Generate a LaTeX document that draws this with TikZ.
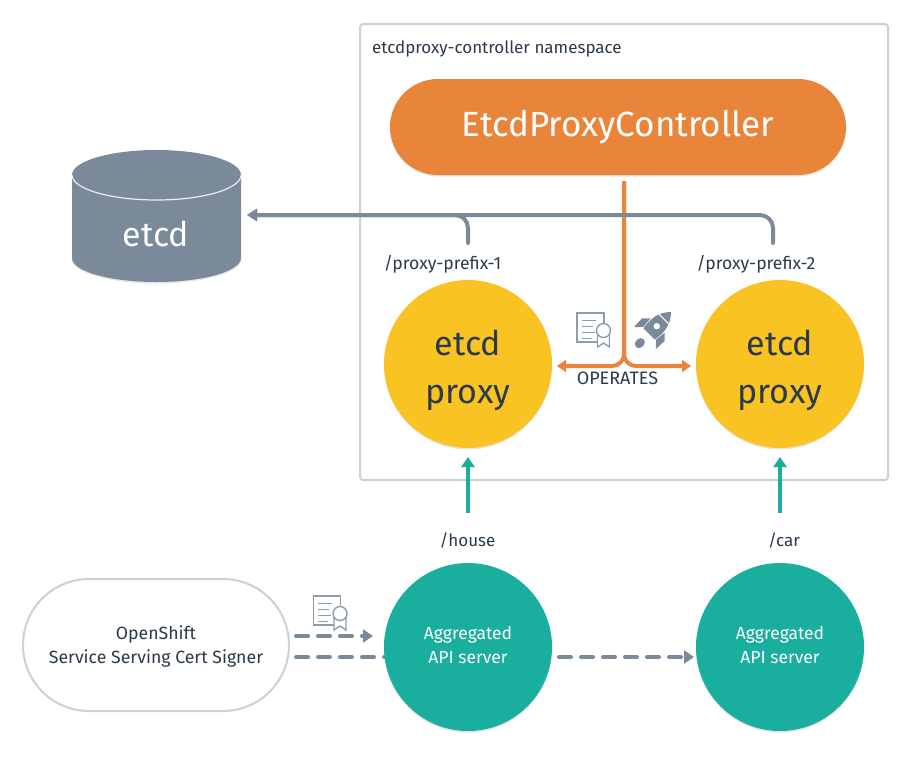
\documentclass[tikz,border=0pt]{standalone}
\usepackage{fontspec}
\setmainfont{Fira Sans}
\usetikzlibrary{arrows.meta,shadows,shapes.misc}
\definecolor{slate}{HTML}{7A8A9A}
\definecolor{iconline}{HTML}{8E9DAB}
\definecolor{borderc}{HTML}{C6D2DC}
\definecolor{orangec}{HTML}{E9853A}
\definecolor{yellowc}{HTML}{F9C423}
\definecolor{tealc}{HTML}{1AAE9F}
\definecolor{inkc}{HTML}{2B3A4A}
\tikzset{
  softshadow/.style={general shadow={shadow xshift=0pt,shadow yshift=-1.5pt,fill=black,opacity=.10}},
  circ/.style={circle,minimum size=168pt,inner sep=0pt,align=center,softshadow},
  proxy/.style={circ,fill=yellowc,text=inkc,font=\fontsize{34}{48}\selectfont},
  apisrv/.style={circ,fill=tealc,text=white,font=\fontsize{17.5}{24}\selectfont},
  lbl/.style={text=inkc,font=\fontsize{17}{20}\selectfont,inner sep=0pt},
  grayline/.style={draw=slate,line width=4pt,line cap=round,rounded corners=13pt},
  orangeline/.style={draw=orangec,line width=4pt,rounded corners=12pt},
  tealline/.style={draw=tealc,line width=4pt},
  dashline/.style={draw=slate,line width=4pt,line cap=round,dash pattern=on 12pt off 10pt},
  headg/.style={-{Triangle[length=10pt,width=12pt]}},
  heado/.style={-{Triangle[length=9pt,width=12pt]}},
  headt/.style={-{Triangle[length=10pt,width=13pt]}},
  pics/cert/.style={code={
    \draw[iconline,line width=1.4pt] (-13.5,14.5) rectangle (13.5,-14.5);
    \foreach \yy/\xx in {7/9,1/6,-5/8,-11/5}{\draw[iconline,line width=1.4pt] (-9,\yy) -- (\xx-4,\yy);}
    \draw[iconline,line width=1.4pt,fill=white] (7,-5) -- (7,-19.5) -- (13,-15.5) -- (19,-19.5) -- (19,-5);
    \draw[iconline,line width=1.4pt,fill=white] (13,-3) circle (7);
  }},
  pics/rocket/.style={code={
    \begin{scope}[rotate=-45]
      \fill[slate] (0,24) .. controls (9,15) and (10,5) .. (8,-7) -- (-8,-7) .. controls (-10,5) and (-9,15) .. (0,24) -- cycle;
      \fill[slate] (-10,5) -- (-16,-1) -- (-15.5,-13) -- (-9,-6) -- cycle;
      \fill[slate] (10,5) -- (16,-1) -- (15.5,-13) -- (9,-6) -- cycle;
      \draw[white,line width=1pt] (-8,14) -- (8,14);
      \fill[white] (0,4) circle (3.2);
      \fill[slate] (0,-20) ellipse[x radius=4.5,y radius=5.5];
    \end{scope}
  }}
}
\begin{document}
\begin{tikzpicture}[x=1pt,y=1pt]
\useasboundingbox (0,0) rectangle (912,-756);
% namespace
\node[draw=borderc,line width=2pt,rounded corners=3pt,minimum width=528pt,minimum height=456pt,inner sep=0pt] (ns) at (624,-252) {};
\node[lbl,anchor=west] (nslabel) at (372,-49) {etcdproxy-controller namespace};
% cylinder
\fill[slate,softshadow] (72,-175) -- (72,-258) arc[start angle=180,end angle=360,x radius=84.5,y radius=24] -- (241,-175) -- cycle;
\fill[slate] (156.5,-175) ellipse[x radius=84.5,y radius=25];
\draw[white!85!slate,line width=1.2pt] (72,-175) arc[start angle=180,end angle=360,x radius=84.5,y radius=25];
\node[text=white,font=\fontsize{34}{40}\selectfont,inner sep=0pt] (etcd) at (156,-234) {etcd};
% controller
\node[fill=orangec,text=white,rounded rectangle,minimum width=456pt,minimum height=96pt,inner sep=0pt,font=\fontsize{35}{40}\selectfont,softshadow] (ctrl) at (618,-127) {\raisebox{-3pt}{EtcdProxyController}};
% dashed line that runs under the first server
\coordinate (d2) at (296,-657);
\coordinate (d2e) at (395,-657);
\draw[dashline] (d2) -- (d2e);
% proxies
\node[proxy] (p1) at (468,-364) {\rule{0pt}{38pt}etcd\\proxy};
\node[proxy] (p2) at (780,-364) {\rule{0pt}{38pt}etcd\\proxy};
\node[apisrv] (a1) at (468,-647) {Aggregated\\API server\rule[-4pt]{0pt}{0pt}};
\node[apisrv] (a2) at (780,-647) {Aggregated\\API server\rule[-4pt]{0pt}{0pt}};
\node[draw=borderc,line width=2pt,fill=white,rounded rectangle,minimum width=266pt,minimum height=132pt,inner sep=0pt,align=center,text=inkc,font=\fontsize{17.7}{24}\selectfont] (signer) at (156,-645) {\rule{0pt}{17pt}OpenShift\\Service Serving Cert Signer};
% labels
\node[lbl,font=\fontsize{17.6}{20}\selectfont] (pp1) at (442.5,-264) {/proxy-prefix-1};
\node[lbl,font=\fontsize{17.6}{20}\selectfont] (pp2) at (756,-264) {/proxy-prefix-2};
\node[lbl] (house) at (467.5,-541) {/house};
\node[lbl] (car) at (784,-541) {/car};
\node[lbl,font=\fontsize{18}{20}\selectfont] (op) at (617.5,-378) {OPERATES};
% coordinates
\coordinate (g1) at (468,-243);
\coordinate (g2) at (773,-243);
\coordinate (gend) at (247,-215);
\coordinate (ostart) at (624,-181);
\coordinate (ol) at (557,-366);
\coordinate (or) at (691,-366);
% orange
\draw[orangeline,heado] (ostart) -- (624,-366) -- (ol);
\draw[orangeline,heado] (ostart) -- (624,-366) -- (or);
% gray
\draw[grayline,headg] (g1) -- (468,-215) -- (gend);
\draw[grayline,headg] (g2) -- (773,-215) -- (gend);
% teal
\coordinate (t1) at (468,-513);
\coordinate (t2) at (780,-513);
\coordinate (t1e) at (468,-457);
\coordinate (t2e) at (780,-457);
\draw[tealline,headt] (t1) -- (t1e);
\draw[tealline,headt] (t2) -- (t2e);
% dashed
\coordinate (d1) at (296,-636);
\coordinate (d1e) at (373,-636);
\coordinate (d3) at (559,-657);
\coordinate (d3e) at (694,-657);
\draw[dashline,-{Triangle[length=10pt,width=13pt,fill=slate]}] (d1) -- (d1e);
\draw[dashline,-{Triangle[length=10pt,width=13pt,fill=slate]}] (d3) -- (d3e);
% icons
\pic at (590.5,-327.5) {cert};
\pic at (327,-610.5) {cert};
\pic at (654,-329) {rocket};
\end{tikzpicture}
\end{document}
